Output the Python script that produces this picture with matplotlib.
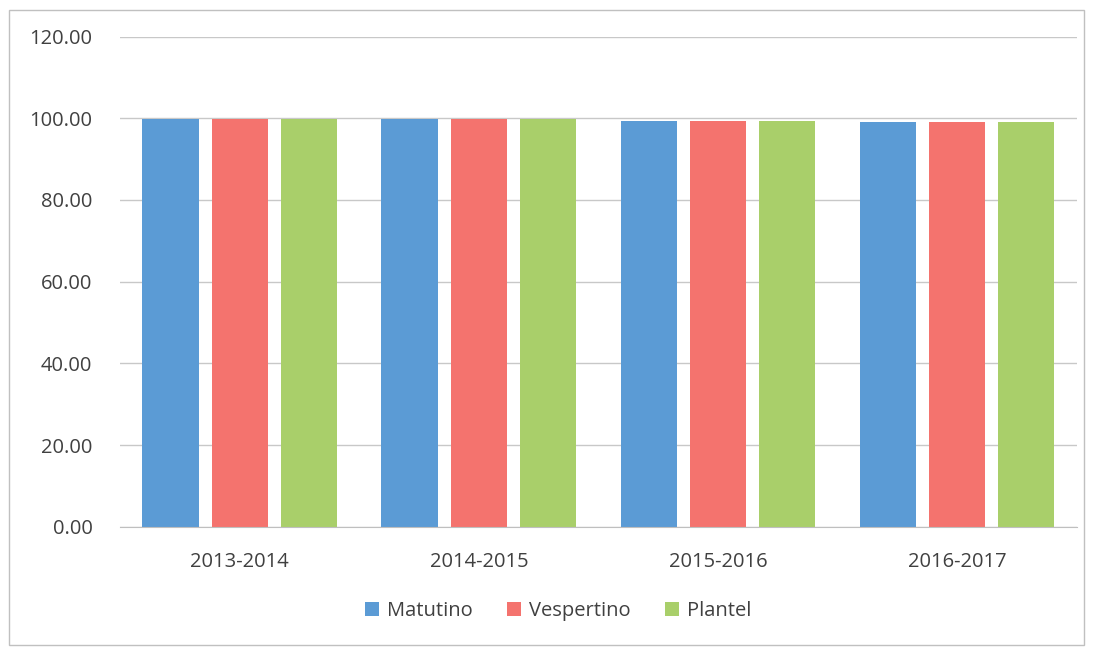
import matplotlib.pyplot as plt
import numpy as np
from matplotlib.patches import Rectangle

periods = ["2013-2014", "2014-2015", "2015-2016", "2016-2017"]
matutino = [99.9, 99.7, 99.4, 99.1]
vespertino = [99.9, 99.7, 99.4, 99.1]
plantel = [99.9, 99.7, 99.4, 99.1]

series = [
    ("Matutino", matutino, "#5b9bd5"),
    ("Vespertino", vespertino, "#f4736e"),
    ("Plantel", plantel, "#a9cf6a"),
]

plt.rcParams["font.family"] = ["Open Sans", "DejaVu Sans"]

fig = plt.figure(figsize=(10.93, 6.52), dpi=100)
ax = fig.add_axes([0.11, 0.192, 0.875, 0.752])

x = np.arange(len(periods))
width = 0.235
gap = 0.055
for i, (name, vals, color) in enumerate(series):
    ax.bar(x + (i - 1) * (width + gap), vals, width, color=color, label=name, zorder=2)

ax.set_ylim(0, 120)
ax.set_yticks(np.arange(0, 121, 20))
ax.set_yticklabels([f"{v:.2f}" for v in np.arange(0, 121, 20)])
ax.set_xlim(-0.5, len(periods) - 0.5)
ax.set_xticks(x)
ax.set_xticklabels(periods)
ax.grid(axis="y", color="#c8c8c8", linewidth=1, zorder=0)
for s in ["top", "right", "left"]:
    ax.spines[s].set_visible(False)
ax.spines["bottom"].set_color("#bfbfbf")
ax.tick_params(axis="both", length=0, labelsize=14.5, colors="#404040")
ax.tick_params(axis="x", pad=18)
ax.tick_params(axis="y", pad=20)

ax.legend(loc="upper center", bbox_to_anchor=(0.458, -0.115), ncol=3, frameon=False,
          fontsize=14.5, handlelength=0.7, handleheight=0.7, handletextpad=0.4,
          columnspacing=1.7, labelcolor="#404040")

fig.patches.append(Rectangle((0.008, 0.01), 0.984, 0.975, transform=fig.transFigure,
                             fill=False, edgecolor="#c0c0c0", linewidth=1))

fig.savefig("out.png", dpi=100)
